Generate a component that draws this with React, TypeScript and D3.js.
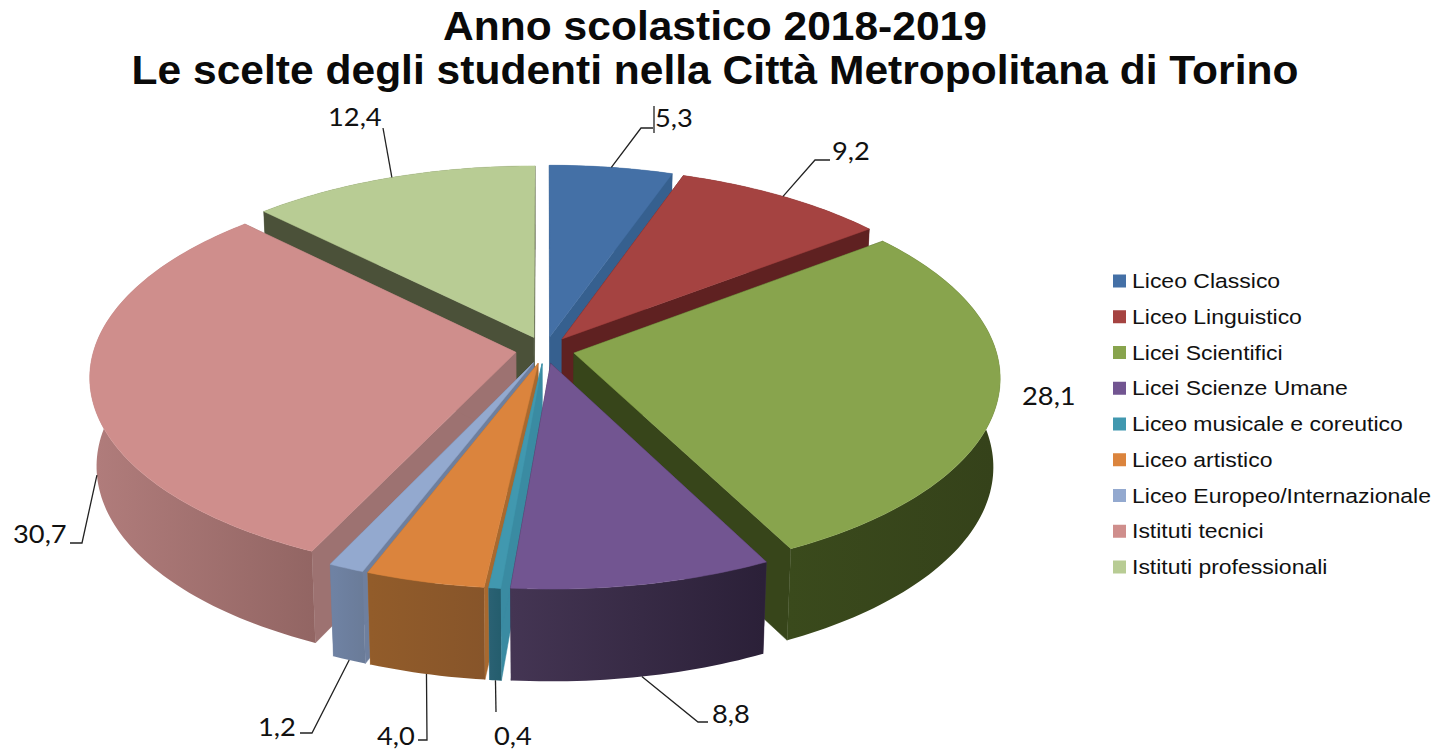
import React from "react";
import * as d3 from "d3";

const categories = ["Liceo Classico","Liceo Linguistico","Licei Scientifici","Licei Scienze Umane","Liceo musicale e coreutico","Liceo artistico","Liceo Europeo/Internazionale","Istituti tecnici","Istituti professionali"];
const values = [5.3,9.2,28.1,8.8,0.4,4.0,1.2,30.7,12.4];
const valueLabels = ["5,3","9,2","28,1","8,8","0,4","4,0","1,2","30,7","12,4"];
const topColors = ["#4470a6","#a54341","#88a44d","#725591","#4198af","#db843d","#93a9cf","#cf8e8c","#b8cc94"];
const radialColors = ["#36608f","#5f2121","#37451a","#3a2d4a","#3a8ba2","#a8692f","#6e7f9e","#9d7271","#4b5139"];
const wallLeft = ["#36608f","#5f2121","#3a4a1c","#443553","#2a6173","#925c2a","#6f82a3","#b07c7b","#4b5139"];
const wallRight = ["#36608f","#5f2121","#35421a","#2b2038","#245d6d","#87552a","#6a7b98","#926563","#4b5139"];
const titleLines = ["Anno scolastico 2018-2019","Le scelte degli studenti nella Città Metropolitana di Torino"];
// painter's order, back to front
const drawOrder = [0,8,1,7,2,6,5,4,3];

// label layout: text position and the leader's bend points (the leader starts on the slice rim)
const labelX = [655,832,1022,712,494,377,258,13,328];
const labelY = [117,150,395,713,735,735,726,533,116];
const leaderBends: number[][][] = [
  [[641,128],[653,128]],
  [[815,160],[830,160]],
  [],
  [[698,722],[708,722]],
  [[496,712]],
  [[427,740],[418,740]],
  [[312,733],[300,733]],
  [[82,543],[70,543]],
  [[383,128]],
];

const CX = 545, CY = 350, RX = 422, RY = 195, K = 0.12, EXPLODE = 0.07, HEIGHT = 88;

function project(X: number, Y: number, lower: boolean): [number, number] {
  const w = 1 / (1 + K * Y);
  const x = RX * X * w, y = -RY * Y * w;
  if (!lower) return [CX + x, CY + y];
  return [CX + x * 0.985, CY + y + HEIGHT - 4 * Y];
}

const pieGen = d3.pie<number>().sort(null).value((d) => d);
const arcs = pieGen(values);
const line = d3.line();
const closed = (pts: [number, number][]) => line(pts) + "Z";

const color = d3.scaleOrdinal<string, string>().domain(categories).range(topColors);
const legendY = d3.scalePoint<string>().domain(categories).range([281, 567]);

type Slice = {
  i: number; name: string; mid: number; startA: number; endA: number;
  ox: number; oy: number;
};
const slices: Slice[] = arcs.map((a, i) => {
  const mid = (a.startAngle + a.endAngle) / 2;
  return { i, name: categories[i], mid, startA: a.startAngle, endA: a.endAngle,
    ox: EXPLODE * Math.sin(mid), oy: EXPLODE * Math.cos(mid) };
});
const order = drawOrder.map((i) => slices[i]);

const rim = (s: Slice, a: number, lower: boolean) =>
  project(s.ox + Math.sin(a), s.oy + Math.cos(a), lower);
const apex = (s: Slice, lower: boolean) => project(s.ox, s.oy, lower);
const arcPts = (s: Slice, lower: boolean) => {
  const n = Math.max(4, Math.ceil((s.endA - s.startA) / 0.02));
  return d3.range(n + 1).map((k) => rim(s, s.startA + ((s.endA - s.startA) * k) / n, lower));
};

export default function App() {
  return (
    <svg width={1444} height={751} style={{ position: "absolute", left: 0, top: 0, background: "#fff", display: "block" }}>
      <defs>
        {slices.map((s) => {
          const xs = arcPts(s, true).map((p) => p[0]);
          return (
            <linearGradient key={s.i} id={`wall${s.i}`} gradientUnits="userSpaceOnUse" x1={d3.min(xs)} x2={d3.max(xs)} y1={0} y2={0}>
              <stop offset="0" stopColor={wallLeft[s.i]} />
              <stop offset="1" stopColor={wallRight[s.i]} />
            </linearGradient>
          );
        })}
      </defs>
      <g fontFamily="'Liberation Sans', Arial, sans-serif" fontWeight="bold" fontSize={40} textAnchor="middle" fill="#0a0a0a">
        {titleLines.map((t, i) => (
          <text key={t} transform={`translate(715,${39.5 + i * 44}) scale(1.064,1)`}>{t}</text>
        ))}
      </g>
      {order.map((s) => {
        const top = arcPts(s, false), bot = arcPts(s, true);
        const c = radialColors[s.i];
        return (
          <g key={s.i}>
            <path d={closed([apex(s, false), top[0], bot[0], apex(s, true)])} fill={c} stroke={c} strokeWidth={0.5} />
            <path d={closed([apex(s, false), top[top.length - 1], bot[bot.length - 1], apex(s, true)])} fill={c} stroke={c} strokeWidth={0.5} />
            <path d={closed([...top, ...[...bot].reverse()])} fill={`url(#wall${s.i})`} />
            <path d={closed([apex(s, false), ...top])} fill={color(s.name)} stroke={color(s.name)} strokeWidth={0.5} />
          </g>
        );
      })}
      <g fill="none" stroke="#222" strokeWidth={1.3}>
        {slices.map((s) => {
          const bends = leaderBends[s.i];
          if (!bends.length) return null;
          const front = Math.cos(s.mid) < 0;
          const start = rim(s, s.mid, front);
          return <path key={s.i} d={line([start, ...(bends as [number, number][])]) as string} />;
        })}
        <path d={line([[654, 106], [654, 133]]) as string} />
      </g>
      <g fontFamily="Lato, sans-serif" fontSize={25.5} fill="#111">
        {valueLabels.map((t, i) => (
          <text key={t} transform={`translate(${labelX[i]},${labelY[i]}) scale(1.07,1)`} dominantBaseline="central">{t}</text>
        ))}
      </g>
      <g fontFamily="'Liberation Sans', Arial, sans-serif" fontSize={20.5} fill="#111">
        {categories.map((c) => (
          <g key={c} transform={`translate(0,${legendY(c)})`}>
            <rect x={1113} y={-6.5} width={13} height={13} fill={color(c)} />
            <text transform="translate(1132,0) scale(1.122,1)" dominantBaseline="central">{c}</text>
          </g>
        ))}
      </g>
    </svg>
  );
}
